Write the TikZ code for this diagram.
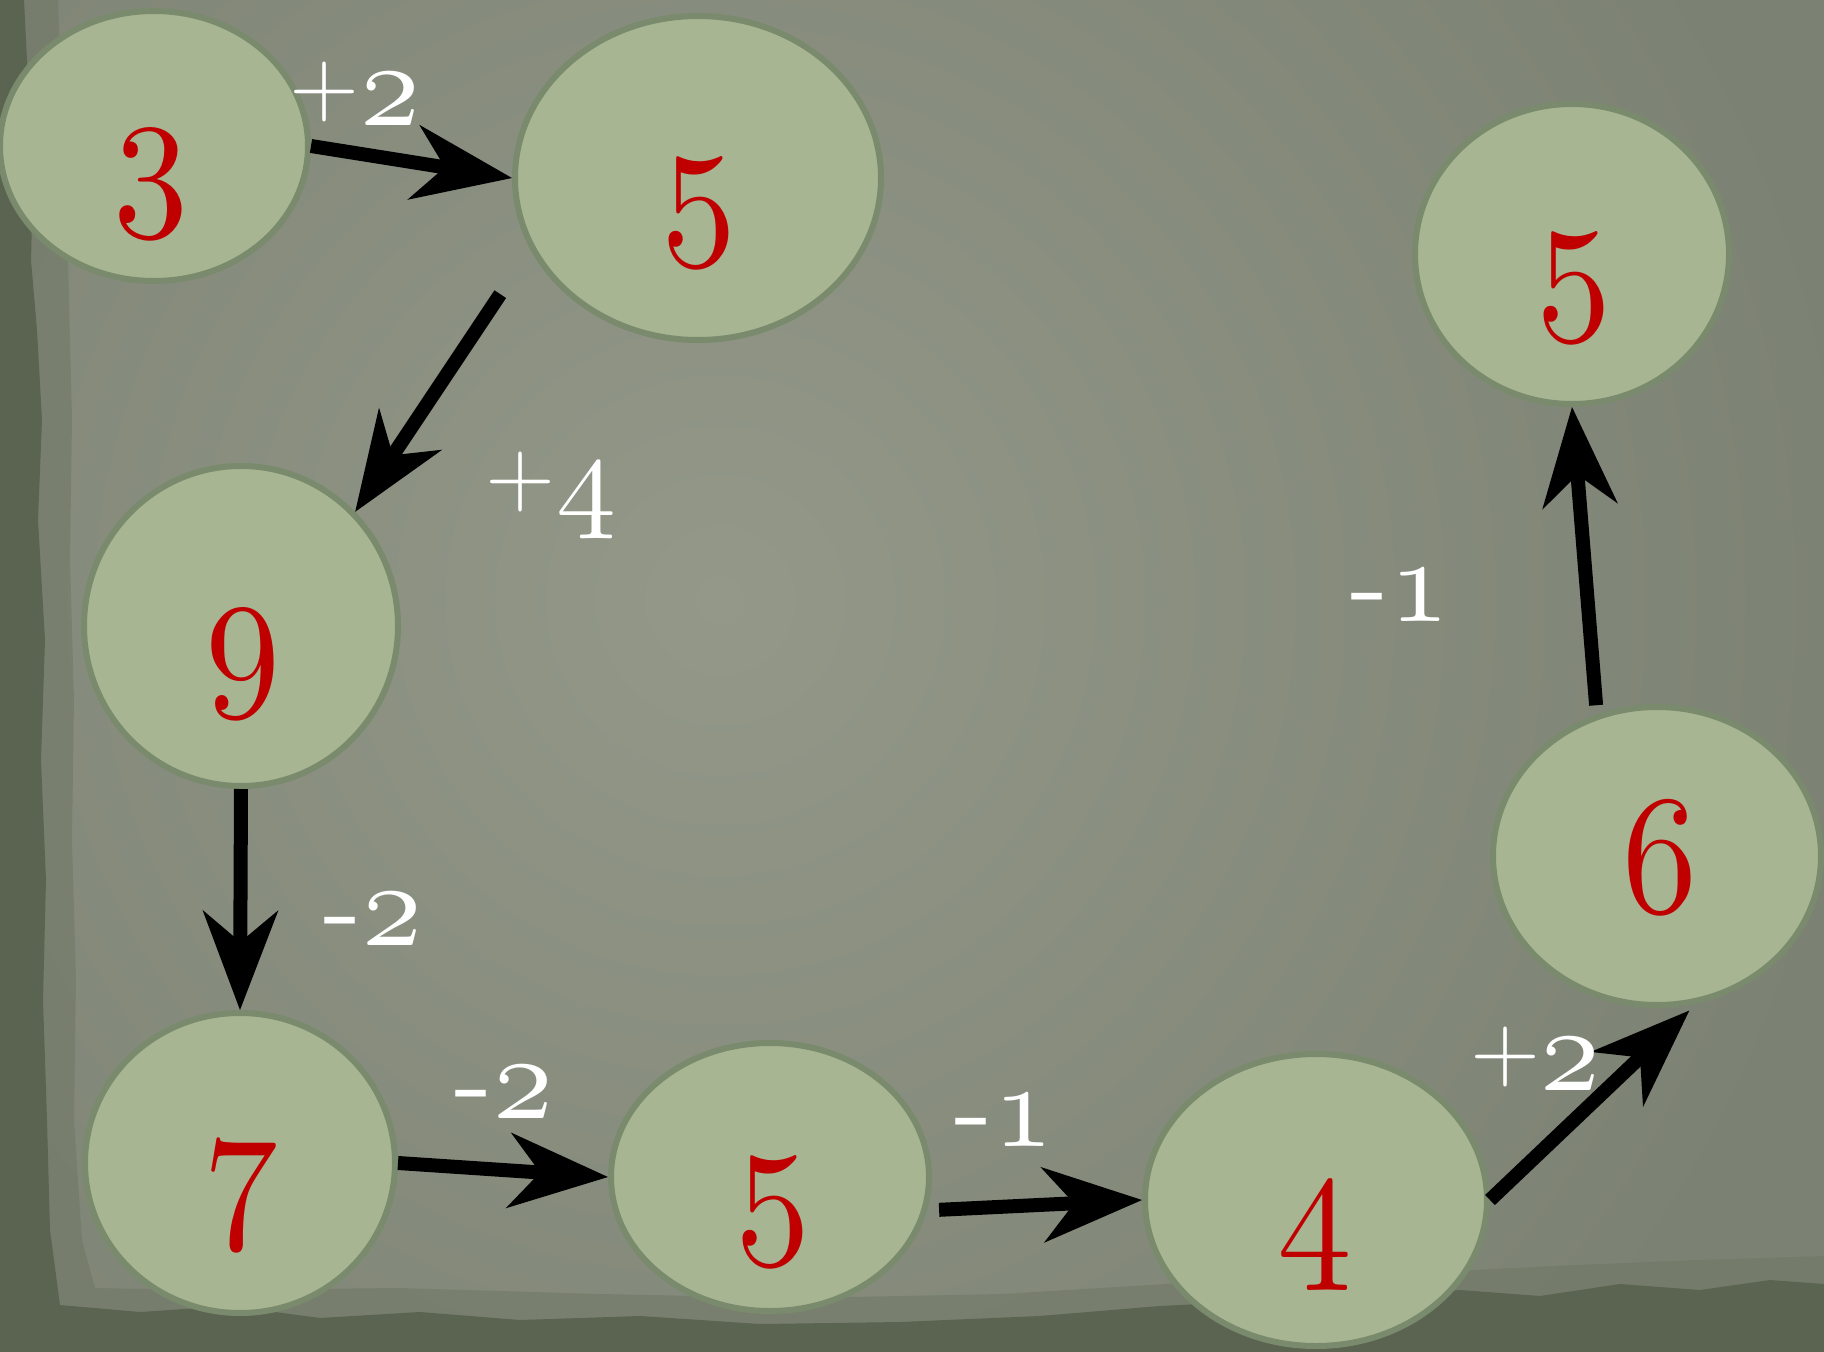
\documentclass[tikz,border=0pt]{standalone}
\usepackage{graphicx}
\usetikzlibrary{arrows.meta,shapes.geometric}
\definecolor{bglight}{HTML}{939889}
\definecolor{bgdark}{HTML}{7C8273}
\definecolor{edgemid}{HTML}{6E7562}
\definecolor{edgegreen}{HTML}{5A6450}
\definecolor{nodefill}{HTML}{A7B592}
\definecolor{nodeline}{HTML}{7A8A6C}
\definecolor{digred}{HTML}{C00000}
\newcommand{\osnum}[1]{{\fontencoding{OML}\fontfamily{lmm}\fontseries{m}\fontshape{it}\fontsize{10}{12}\selectfont #1}}
\newcommand{\bigdig}[1]{\scalebox{15}[17]{\osnum{#1}}}
\newcommand{\plussign}{\scalebox{9}{\fontsize{10}{12}\selectfont\raisebox{1.2pt}{+}}}
\newcommand{\minussign}{\scalebox{11.5}{\fontsize{10}{12}\selectfont -}}
\newcommand{\labdig}[1]{\scalebox{12}{\osnum{#1}}}
\tikzset{
  bubble/.style={ellipse, draw=nodeline, fill=nodefill, line width=6pt, inner sep=0pt},
  digit/.style={anchor=base, inner sep=0pt, text=digred},
  steplabel/.style={anchor=base, inner sep=0pt, text=white},
  arr/.style={draw=black, line width=14pt, -{Stealth[length=100pt,width=76pt,inset=32pt,line width=0pt]}},
}
\begin{document}
\begin{tikzpicture}[x=1pt,y=-1pt]
\useasboundingbox (0,0) rectangle (1824,1352);
\clip (0,0) rectangle (1824,1352);
% background paper
\fill[bgdark] (0,0) rectangle (1824,1352);
\shade[inner color=bglight, outer color=bgdark] (720,600) circle (1150);
% torn edges: mid band
\fill[edgemid, opacity=0.5] (0,0) -- (58,0) -- (62,120) -- (68,260) -- (72,420) -- (70,560) -- (74,700) -- (72,840) -- (76,980) -- (74,1120) -- (82,1240) -- (95,1288) -- (200,1290) -- (400,1288) -- (600,1294) -- (800,1298) -- (1000,1294) -- (1200,1282) -- (1400,1274) -- (1550,1266) -- (1700,1260) -- (1824,1256) -- (1824,1352) -- (0,1352) -- cycle;
% torn edges: dark
\fill[edgegreen] (0,0) -- (24,0) -- (28,80) -- (33,180) -- (31,260) -- (37,330) -- (42,420) -- (38,520) -- (45,640) -- (41,760) -- (46,880) -- (43,1000) -- (47,1120) -- (50,1230) -- (60,1305) -- (140,1312) -- (230,1306) -- (320,1318) -- (420,1312) -- (520,1320) -- (640,1316) -- (760,1324) -- (900,1322) -- (1040,1316) -- (1160,1306) -- (1280,1300) -- (1380,1296) -- (1460,1290) -- (1540,1296) -- (1620,1284) -- (1700,1290) -- (1770,1280) -- (1824,1284) -- (1824,1352) -- (0,1352) -- cycle;
% bubbles
\node[bubble, minimum width=308pt, minimum height=270pt] (A) at (154,146) {};
\node[bubble, minimum width=366pt, minimum height=324pt] (B) at (698,178) {};
\node[bubble, minimum width=314pt, minimum height=320pt] (C) at (241,626) {};
\node[bubble, minimum width=310pt, minimum height=300pt] (D) at (240,1163) {};
\node[bubble, minimum width=318pt, minimum height=268pt] (E) at (770,1177) {};
\node[bubble, minimum width=342pt, minimum height=292pt] (F) at (1316,1200) {};
\node[bubble, minimum width=328pt, minimum height=298pt] (G) at (1657,856) {};
\node[bubble, minimum width=314pt, minimum height=300pt] (H) at (1572,254) {};
% digits
\node[digit] (dA) at (151,204) {\bigdig{3}};
\node[digit] (dB) at (699,233) {\bigdig{5}};
\node[digit] (dC) at (243,684) {\bigdig{9}};
\node[digit] (dD) at (241,1216) {\bigdig{7}};
\node[digit] (dE) at (773,1232) {\bigdig{5}};
\node[digit] (dF) at (1315,1257) {\bigdig{4}};
\node[digit] (dG) at (1660,912) {\bigdig{6}};
\node[digit] (dH) at (1574,308) {\bigdig{5}};
% arrows
\draw[arr] (A.east) -- (B.west);
\draw[arr, shorten <=54pt] (B.203) -- (C.45);
\draw[arr] (C.south) -- (D.north);
\draw[arr] (D.east) -- (E.west);
\draw[arr, shorten <=12pt] (E.-12) -- (F.west);
\draw[arr, shorten >=10pt] (F.east) -- (G.-75);
\draw[arr, shorten <=9pt] (G.113) -- (H.south);
% step labels
\node[steplabel] (lAB) at (355,125) {\plussign\labdig{2}};
\node[steplabel] (lBC) at (551,515) {\plussign\labdig{4}};
\node[steplabel] (lCD) at (373,945) {\minussign\labdig{2}};
\node[steplabel] (lDE) at (504,1118) {\minussign\labdig{2}};
\node[steplabel] (lEF) at (1004,1146) {\minussign\labdig{1}};
\node[steplabel] (lFG) at (1535,1090) {\plussign\labdig{2}};
\node[steplabel] (lGH) at (1400,621) {\minussign\labdig{1}};
\end{tikzpicture}
\end{document}
